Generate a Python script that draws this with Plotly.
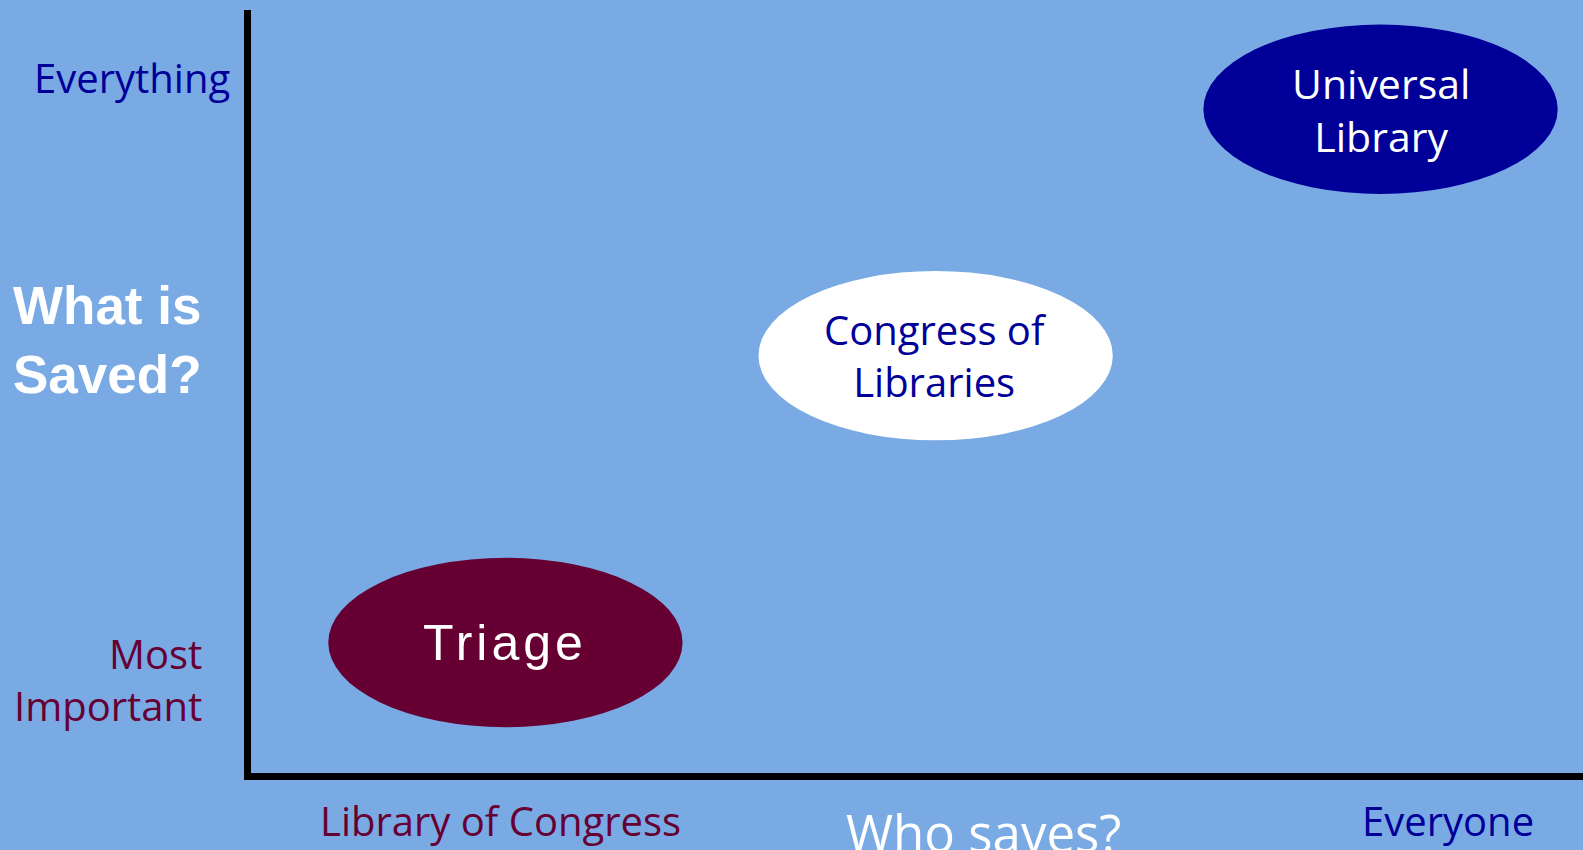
import plotly.graph_objects as go

# where each approach sits: who saves (x) vs what is saved (y), on a 0-10 scale
approaches = ["<span style='letter-spacing:4px'>Triage</span>",
              "Congress of<br>Libraries", "Universal<br>Library"]
who_saves = [1.91, 5.14, 8.48]
what_saved = [1.71, 5.47, 8.70]

x_end_labels = ["Library of Congress", "Everyone"]
x_end_pos = [1.87, 8.99]
y_end_labels = ["Most<br>Important", "Everything"]
y_end_pos = [1.22, 9.11]

BG = "#7aaae4"
NAVY = "#000099"
MAROON = "#660033"
TAHOMA = "Open Sans, Tahoma, sans-serif"
ARIAL = "Liberation Sans, Arial, sans-serif"

fills = [MAROON, "white", NAVY]
text_colors = ["white", NAVY, "white"]
text_fonts = [ARIAL, TAHOMA, TAHOMA]
text_sizes = [50, 40, 41]

# ellipse half-sizes in data units
RX, RY = 1.33, 1.11

fig = go.Figure()

for x, y, c in zip(who_saves, what_saved, fills):
    fig.add_shape(
        type="circle", xref="x", yref="y",
        x0=x - RX, x1=x + RX, y0=y - RY, y1=y + RY,
        fillcolor=c, line=dict(width=0), layer="below",
    )

for name, x, y, col, fam, size in zip(approaches, who_saves, what_saved,
                                      text_colors, text_fonts, text_sizes):
    fig.add_annotation(
        text=name, xref="x", x=x, yref="y", y=y,
        xanchor="center", yanchor="middle", showarrow=False,
        font=dict(family=fam, size=size, color=col),
    )

# axis end labels
fig.add_annotation(
    text=y_end_labels[1], xref="paper", x=0, xshift=-19, xanchor="right",
    yref="y", y=y_end_pos[1], yanchor="middle", showarrow=False,
    font=dict(family=TAHOMA, size=40, color=NAVY),
)
fig.add_annotation(
    text=y_end_labels[0], xref="paper", x=0, xshift=-47, xanchor="right",
    yref="y", y=y_end_pos[0], yanchor="middle", showarrow=False, align="right",
    font=dict(family=TAHOMA, size=40, color=MAROON),
)
fig.add_annotation(
    text="What is<br>Saved?", xref="paper", x=0, xshift=-240, xanchor="left",
    yref="y", y=5.67, yanchor="middle", showarrow=False, align="left",
    font=dict(family=ARIAL, size=53, color="white", weight="bold"),
)
fig.add_annotation(
    text=x_end_labels[0], xref="x", x=x_end_pos[0],
    yref="paper", y=0, yshift=-47, yanchor="middle", showarrow=False,
    font=dict(family=TAHOMA, size=40, color=MAROON),
)
fig.add_annotation(
    text=x_end_labels[1], xref="x", x=x_end_pos[1],
    yref="paper", y=0, yshift=-47, yanchor="middle", showarrow=False,
    font=dict(family=TAHOMA, size=40, color=NAVY),
)
fig.add_annotation(
    text="Who saves?", xref="x", x=5.50,
    yref="paper", y=0, yshift=-59, yanchor="middle", showarrow=False,
    font=dict(family=TAHOMA, size=51, color="white"),
)

fig.update_xaxes(range=[0, 10], showgrid=False, zeroline=False, showticklabels=False,
                 ticks="", showline=True, linewidth=7, linecolor="black", fixedrange=True)
fig.update_yaxes(range=[0, 10], showgrid=False, zeroline=False, showticklabels=False,
                 ticks="", showline=True, linewidth=7, linecolor="black", fixedrange=True)

fig.update_layout(
    width=1583, height=850,
    margin=dict(l=251, r=0, t=10, b=77),
    paper_bgcolor=BG, plot_bgcolor=BG,
    showlegend=False,
)

# drop the page margin so the figure fills the window
fig.write_html(
    "out.html",
    config={"displayModeBar": False},
    post_script="document.body.style.margin='0';document.body.style.overflow='hidden';",
)
